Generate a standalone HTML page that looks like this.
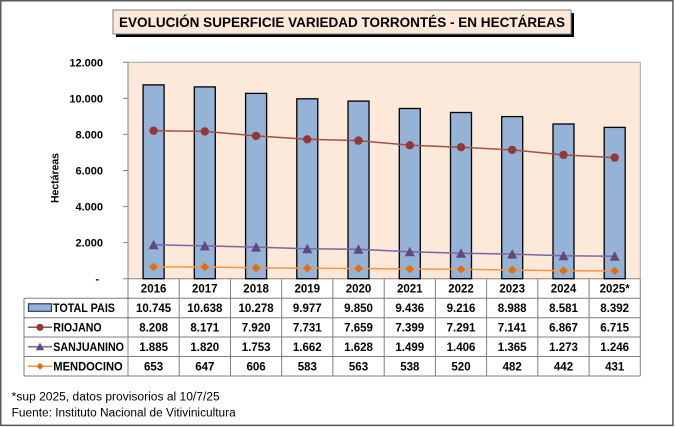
<!DOCTYPE html>
<html><head><meta charset="utf-8"><style>
html,body{margin:0;padding:0;background:#fff;}
svg{display:block;}
text{font-family:"Liberation Sans",Arial,sans-serif;}
</style></head><body>
<svg width="675" height="427" viewBox="0 0 675 427" xmlns="http://www.w3.org/2000/svg">
<rect x="0" y="0" width="675" height="427" fill="#fff"/>
<rect x="0.75" y="0.75" width="672.2" height="424.6" fill="none" stroke="#595959" stroke-width="1.5"/>
<!-- title -->
<rect x="116" y="13" width="458" height="24" fill="#000"/>
<rect x="113" y="10" width="458" height="24" fill="#fde9d9" stroke="#808080" stroke-width="1"/>
<text x="342" y="27" font-size="13.5" font-weight="bold" text-anchor="middle" textLength="446" lengthAdjust="spacingAndGlyphs">EVOLUCIÓN SUPERFICIE VARIEDAD TORRONTÉS - EN HECTÁREAS</text>
<!-- plot area -->
<rect x="128" y="62.3" width="512.3" height="216.4" fill="#fde9d9"/>
<polyline points="128,62.3 640.3,62.3 640.3,278.7" fill="none" stroke="#a6a6a6" stroke-width="1"/>
<line x1="128" y1="62.3" x2="128" y2="376" stroke="#868686" stroke-width="1"/>
<line x1="128" y1="278.7" x2="640.3" y2="278.7" stroke="#868686" stroke-width="1"/>
<g stroke="#868686" stroke-width="1">
<line x1="123" y1="62.3" x2="128" y2="62.3"/>
<line x1="123" y1="98.4" x2="128" y2="98.4"/>
<line x1="123" y1="134.4" x2="128" y2="134.4"/>
<line x1="123" y1="170.5" x2="128" y2="170.5"/>
<line x1="123" y1="206.6" x2="128" y2="206.6"/>
<line x1="123" y1="242.6" x2="128" y2="242.6"/>
<line x1="123" y1="278.7" x2="128" y2="278.7"/>
</g>
<g font-size="11" font-weight="bold" text-anchor="end" fill="#000">
<text x="103" y="66.3">12.000</text>
<text x="103" y="102.4">10.000</text>
<text x="103" y="138.4">8.000</text>
<text x="103" y="174.5">6.000</text>
<text x="103" y="210.6">4.000</text>
<text x="103" y="246.6">2.000</text>
<text x="99" y="282.7">-</text>
</g>
<text transform="translate(58.5,178) rotate(-90)" font-size="11" font-weight="bold" text-anchor="middle" textLength="50" lengthAdjust="spacingAndGlyphs">Hectáreas</text>
<!-- bars -->
<g fill="#95b3d7" stroke="#000" stroke-width="1.3">
<rect x="143.1" y="84.9" width="21" height="193.8"/>
<rect x="194.3" y="86.9" width="21" height="191.8"/>
<rect x="245.6" y="93.4" width="21" height="185.3"/>
<rect x="296.8" y="98.8" width="21" height="179.9"/>
<rect x="348.0" y="101.1" width="21" height="177.6"/>
<rect x="399.3" y="108.5" width="21" height="170.2"/>
<rect x="450.5" y="112.5" width="21" height="166.2"/>
<rect x="501.7" y="116.6" width="21" height="162.1"/>
<rect x="553.0" y="124.0" width="21" height="154.7"/>
<rect x="604.2" y="127.4" width="21" height="151.3"/>
</g>
<!-- Riojano -->
<polyline fill="none" stroke="#a0504d" stroke-width="1.5" points="153.6,130.7 204.8,131.4 256.1,135.9 307.3,139.3 358.5,140.6 409.8,145.3 461.0,147.2 512.2,149.9 563.5,154.9 614.7,157.6"/>
<g fill="#953735">
<circle cx="153.6" cy="130.7" r="4.2"/><circle cx="204.8" cy="131.4" r="4.2"/><circle cx="256.1" cy="135.9" r="4.2"/><circle cx="307.3" cy="139.3" r="4.2"/><circle cx="358.5" cy="140.6" r="4.2"/><circle cx="409.8" cy="145.3" r="4.2"/><circle cx="461.0" cy="147.2" r="4.2"/><circle cx="512.2" cy="149.9" r="4.2"/><circle cx="563.5" cy="154.9" r="4.2"/><circle cx="614.7" cy="157.6" r="4.2"/>
</g>
<!-- Sanjuanino -->
<polyline fill="none" stroke="#8064a2" stroke-width="1.5" points="153.6,244.7 204.8,245.9 256.1,247.1 307.3,248.7 358.5,249.3 409.8,251.7 461.0,253.3 512.2,254.1 563.5,255.7 614.7,256.2"/>
<g fill="#604a7b">
<polygon points="153.6,239.7 148.6,249.2 158.6,249.2"/>
<polygon points="204.8,240.9 199.8,250.4 209.8,250.4"/>
<polygon points="256.1,242.1 251.1,251.6 261.1,251.6"/>
<polygon points="307.3,243.7 302.3,253.2 312.3,253.2"/>
<polygon points="358.5,244.3 353.5,253.8 363.5,253.8"/>
<polygon points="409.8,246.7 404.8,256.2 414.8,256.2"/>
<polygon points="461.0,248.3 456.0,257.8 466.0,257.8"/>
<polygon points="512.2,249.1 507.2,258.6 517.2,258.6"/>
<polygon points="563.5,250.7 558.5,260.2 568.5,260.2"/>
<polygon points="614.7,251.2 609.7,260.7 619.7,260.7"/>
</g>
<!-- Mendocino -->
<polyline fill="none" stroke="#f79646" stroke-width="1.5" points="153.6,266.9 204.8,267.0 256.1,267.8 307.3,268.2 358.5,268.5 409.8,269.0 461.0,269.3 512.2,270.0 563.5,270.7 614.7,270.9"/>
<g fill="#e46c0a">
<polygon points="153.6,262.6 157.9,266.9 153.6,271.2 149.3,266.9"/>
<polygon points="204.8,262.7 209.1,267.0 204.8,271.3 200.5,267.0"/>
<polygon points="256.1,263.5 260.4,267.8 256.1,272.1 251.8,267.8"/>
<polygon points="307.3,263.9 311.6,268.2 307.3,272.5 303.0,268.2"/>
<polygon points="358.5,264.2 362.8,268.5 358.5,272.8 354.2,268.5"/>
<polygon points="409.8,264.7 414.1,269.0 409.8,273.3 405.5,269.0"/>
<polygon points="461.0,265.0 465.3,269.3 461.0,273.6 456.7,269.3"/>
<polygon points="512.2,265.7 516.5,270.0 512.2,274.3 507.9,270.0"/>
<polygon points="563.5,266.4 567.8,270.7 563.5,275.0 559.2,270.7"/>
<polygon points="614.7,266.6 619.0,270.9 614.7,275.2 610.4,270.9"/>
</g>
<!-- table grid -->
<g stroke="#7f7f7f" stroke-width="1">
<line x1="24" y1="298.3" x2="640.3" y2="298.3"/>
<line x1="24" y1="317.7" x2="640.3" y2="317.7"/>
<line x1="24" y1="337" x2="640.3" y2="337"/>
<line x1="24" y1="356.5" x2="640.3" y2="356.5"/>
<line x1="24" y1="376" x2="640.3" y2="376"/>
<line x1="24" y1="298.3" x2="24" y2="376"/>
<line x1="179.2" y1="278.7" x2="179.2" y2="376"/>
<line x1="230.5" y1="278.7" x2="230.5" y2="376"/>
<line x1="281.7" y1="278.7" x2="281.7" y2="376"/>
<line x1="332.9" y1="278.7" x2="332.9" y2="376"/>
<line x1="384.2" y1="278.7" x2="384.2" y2="376"/>
<line x1="435.4" y1="278.7" x2="435.4" y2="376"/>
<line x1="486.6" y1="278.7" x2="486.6" y2="376"/>
<line x1="537.8" y1="278.7" x2="537.8" y2="376"/>
<line x1="589.1" y1="278.7" x2="589.1" y2="376"/>
<line x1="640.3" y1="278.7" x2="640.3" y2="376"/>
</g>
<!-- legend keys -->
<rect x="28.5" y="303.8" width="23" height="7.5" fill="#95b3d7" stroke="#1f3a5f" stroke-width="1.2"/>
<line x1="28" y1="327.3" x2="52" y2="327.3" stroke="#a0504d" stroke-width="1.5"/>
<circle cx="40" cy="327.3" r="3.6" fill="#953735"/>
<line x1="28" y1="346.8" x2="52" y2="346.8" stroke="#8064a2" stroke-width="1.5"/>
<polygon points="40,342.6 35.8,350.2 44.2,350.2" fill="#604a7b"/>
<line x1="28" y1="366.3" x2="52" y2="366.3" stroke="#f79646" stroke-width="1.5"/>
<polygon points="40,362.8 43.5,366.3 40,369.8 36.5,366.3" fill="#e46c0a"/>
<g font-size="11.5" font-weight="bold" fill="#000">
<text x="53" y="312" textLength="62" lengthAdjust="spacingAndGlyphs">TOTAL PAIS</text>
<text x="53.3" y="331.4" textLength="48.4" lengthAdjust="spacingAndGlyphs">RIOJANO</text>
<text x="53.3" y="350.9" textLength="70.7" lengthAdjust="spacingAndGlyphs">SANJUANINO</text>
<text x="53.3" y="370.4" textLength="69.4" lengthAdjust="spacingAndGlyphs">MENDOCINO</text>
</g>
<g font-size="11.5" font-weight="bold" fill="#000" text-anchor="middle">
<text x="153.6" y="292.7">2016</text><text x="204.8" y="292.7">2017</text><text x="256.1" y="292.7">2018</text><text x="307.3" y="292.7">2019</text><text x="358.5" y="292.7">2020</text><text x="409.8" y="292.7">2021</text><text x="461.0" y="292.7">2022</text><text x="512.2" y="292.7">2023</text><text x="563.5" y="292.7">2024</text><text x="614.7" y="292.7">2025*</text>
<text x="153.6" y="312">10.745</text><text x="204.8" y="312">10.638</text><text x="256.1" y="312">10.278</text><text x="307.3" y="312">9.977</text><text x="358.5" y="312">9.850</text><text x="409.8" y="312">9.436</text><text x="461.0" y="312">9.216</text><text x="512.2" y="312">8.988</text><text x="563.5" y="312">8.581</text><text x="614.7" y="312">8.392</text>
<text x="153.6" y="331.4">8.208</text><text x="204.8" y="331.4">8.171</text><text x="256.1" y="331.4">7.920</text><text x="307.3" y="331.4">7.731</text><text x="358.5" y="331.4">7.659</text><text x="409.8" y="331.4">7.399</text><text x="461.0" y="331.4">7.291</text><text x="512.2" y="331.4">7.141</text><text x="563.5" y="331.4">6.867</text><text x="614.7" y="331.4">6.715</text>
<text x="153.6" y="350.9">1.885</text><text x="204.8" y="350.9">1.820</text><text x="256.1" y="350.9">1.753</text><text x="307.3" y="350.9">1.662</text><text x="358.5" y="350.9">1.628</text><text x="409.8" y="350.9">1.499</text><text x="461.0" y="350.9">1.406</text><text x="512.2" y="350.9">1.365</text><text x="563.5" y="350.9">1.273</text><text x="614.7" y="350.9">1.246</text>
<text x="153.6" y="370.4">653</text><text x="204.8" y="370.4">647</text><text x="256.1" y="370.4">606</text><text x="307.3" y="370.4">583</text><text x="358.5" y="370.4">563</text><text x="409.8" y="370.4">538</text><text x="461.0" y="370.4">520</text><text x="512.2" y="370.4">482</text><text x="563.5" y="370.4">442</text><text x="614.7" y="370.4">431</text>
</g>
<!-- footnote -->
<g font-size="11.5" fill="#000">
<text x="11.7" y="400.5" textLength="208" lengthAdjust="spacingAndGlyphs">*sup 2025, datos provisorios al 10/7/25</text>
<text x="11.7" y="416.5" textLength="224" lengthAdjust="spacingAndGlyphs">Fuente: Instituto Nacional de Vitivinicultura</text>
</g>
</svg>
</body></html>
